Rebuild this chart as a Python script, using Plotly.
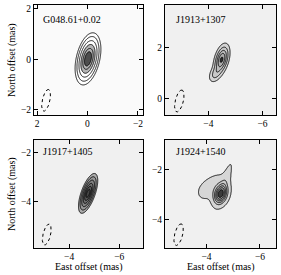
import numpy as np
import plotly.graph_objects as go

# ---------------- data ----------------
source_names = ["G048.61+0.02", "J1913+1307", "J1917+1405", "J1924+1540"]

# axis ranges (mas); east offset increases to the left
x_ranges = [[2.12, -2.2], [-2.4, -6.5], [-2.6, -6.95], [-2.45, -6.6]]
y_ranges = [[-2.2, 2.15], [-0.65, 3.66], [-5.92, -1.49], [-5.13, -0.83]]
x_ticks = [[2, 0, -2], [-4, -6], [-4, -6], [-4, -6]]
y_ticks = [[-2, 0, 2], [0, 2], [-4, -2], [-4, -2]]

# brightness components per source: centre, relative peak, widths (mas), PA (deg)
comp_x = [[-0.02], [-4.49, -4.25], [-4.76], [-4.53, -3.98, -4.38, -4.72]]
comp_y = [[0.02], [1.52, 0.95], [-3.68], [-2.98, -2.86, -2.48, -2.40]]
comp_amp = [[1.0], [1.0, 0.30], [1.0], [1.0, 0.14, 0.10, 0.12]]
comp_smaj = [[0.43], [0.31, 0.20], [0.40], [0.26, 0.25, 0.32, 0.55]]
comp_smin = [[0.19], [0.13, 0.12], [0.13], [0.16, 0.20, 0.24, 0.10]]
comp_pa = [[-13], [-14, -25], [-19], [-15, -35, -70, -17]]

# contour levels (fraction of peak)
levels = [
    [0.05, 0.11, 0.23, 0.40, 0.62, 0.80],
    [0.10, 0.27, 0.49, 0.72, 0.95],
    [0.10, 0.20, 0.36, 0.56, 0.75, 0.91],
    [0.06, 0.25, 0.40, 0.55, 0.70, 0.85],
]
band_colors = [
    ["#fafafa", "#ffffff", "#ffffff", "#ffffff", "#b3b3b3", "#b3b3b3", "#4d4d4d"],
    ["#f0f0f0", "#d3d3d3", "#c8c8c8", "#bcbcbc", "#aeaeae", "#2e2e2e"],
    ["#f0f0f0", "#acacac", "#979797", "#828282", "#6e6e6e", "#5a5a5a", "#454545"],
    ["#f0f0f0", "#d6d6d6", "#c9c9c9", "#bcbcbc", "#adadad", "#9a9a9a", "#3a3a3a"],
]

# restoring beam (dotted ellipse): centre, semi-axes (mas), PA (deg)
beam_x = [1.64, -2.93, -3.11, -2.96]
beam_y = [-1.62, -0.10, -5.37, -4.60]
beam_a = 0.44
beam_b = 0.15
beam_pa = -13

# ---------------- layout geometry ----------------
W, H = 281, 275
x_dom = [[34 / W, 143 / W], [165 / W, 276 / W]]
y_dom = [[1 - 115 / H, 1 - 5 / H], [1 - 248 / H, 1 - 140 / H]]
FONT = "Liberation Serif"

fig = go.Figure()

for p in range(4):
    row, col = divmod(p, 2)
    xa = "x" if p == 0 else f"x{p + 1}"
    ya = "y" if p == 0 else f"y{p + 1}"
    xr, yr = x_ranges[p], y_ranges[p]
    gx = np.linspace(min(xr) - 0.05, max(xr) + 0.05, 260)
    gy = np.linspace(min(yr) - 0.05, max(yr) + 0.05, 260)
    X, Y = np.meshgrid(gx, gy)
    Z = np.zeros_like(X)
    for cx, cy, amp, sa, sb, pa in zip(comp_x[p], comp_y[p], comp_amp[p],
                                      comp_smaj[p], comp_smin[p], comp_pa[p]):
        t = np.deg2rad(pa)
        dx, dy = X - cx, Y - cy
        along = dx * np.sin(t) + dy * np.cos(t)
        across = dx * np.cos(t) - dy * np.sin(t)
        Z += amp * np.exp(-0.5 * ((along / sa) ** 2 + (across / sb) ** 2))
    Z = Z / Z.max()
    lv = levels[p]
    n = len(lv)
    Zi = np.interp(Z, [0.0] + lv + [1.0001], list(range(0, n + 1)) + [n + 1])
    cols = band_colors[p]
    cscale = [[k / n, c] for k, c in enumerate(cols)]
    fig.add_trace(go.Contour(
        x=gx, y=gy, z=Zi, xaxis=xa, yaxis=ya,
        contours=dict(start=1, end=n, size=1, coloring="fill"),
        colorscale=cscale, showscale=False,
        line=dict(color="black", width=0.9),
        hoverinfo="skip",
    ))
    # beam
    th = np.linspace(0, 2 * np.pi, 120)
    t = np.deg2rad(beam_pa)
    u = beam_a * np.cos(th)
    v = beam_b * np.sin(th)
    bx = beam_x[p] + u * np.sin(t) + v * np.cos(t)
    by = beam_y[p] + u * np.cos(t) - v * np.sin(t)
    fig.add_trace(go.Scatter(x=bx, y=by, xaxis=xa, yaxis=ya, mode="lines",
                             line=dict(color="black", width=1, dash="dot"),
                             hoverinfo="skip", showlegend=False))

    axcommon = dict(showgrid=False, zeroline=False, showline=True, linecolor="black",
                    linewidth=1, mirror="ticks", ticks="inside", ticklen=4,
                    tickcolor="black", tickwidth=0.8,
                    tickfont=dict(family=FONT, size=9.5, color="black"))
    fig.layout[("xaxis" if p == 0 else f"xaxis{p + 1}")] = dict(
        domain=x_dom[col], anchor=ya, range=xr, tickvals=x_ticks[p], **axcommon)
    fig.layout[("yaxis" if p == 0 else f"yaxis{p + 1}")] = dict(
        domain=y_dom[row], anchor=xa, range=yr, tickvals=y_ticks[p], **axcommon)

    fig.add_annotation(text=source_names[p], xref="paper", yref="paper",
                       x=(41 if col == 0 else 174) / W,
                       y=1 - (19 if row == 0 else 151) / H,
                       xanchor="left", yanchor="middle", showarrow=False,
                       font=dict(family=FONT, size=10, color="black"))

for yc in [60, 194]:
    fig.add_annotation(text="North offset (mas)", xref="paper", yref="paper",
                       x=12 / W, y=1 - yc / H, textangle=-90, showarrow=False,
                       xanchor="center", yanchor="middle",
                       font=dict(family=FONT, size=10, color="black"))
for xc in [88.5, 220.5]:
    fig.add_annotation(text="East offset (mas)", xref="paper", yref="paper",
                       x=xc / W, y=1 - 266.5 / H, showarrow=False,
                       xanchor="center", yanchor="middle",
                       font=dict(family=FONT, size=10, color="black"))

fig.update_layout(width=W, height=H, margin=dict(l=0, r=0, t=0, b=0),
                  paper_bgcolor="white", plot_bgcolor="#f0f0f0", showlegend=False)

fig.write_html("out.html", config={"displayModeBar": False},
               post_script="document.body.style.margin='0';")
